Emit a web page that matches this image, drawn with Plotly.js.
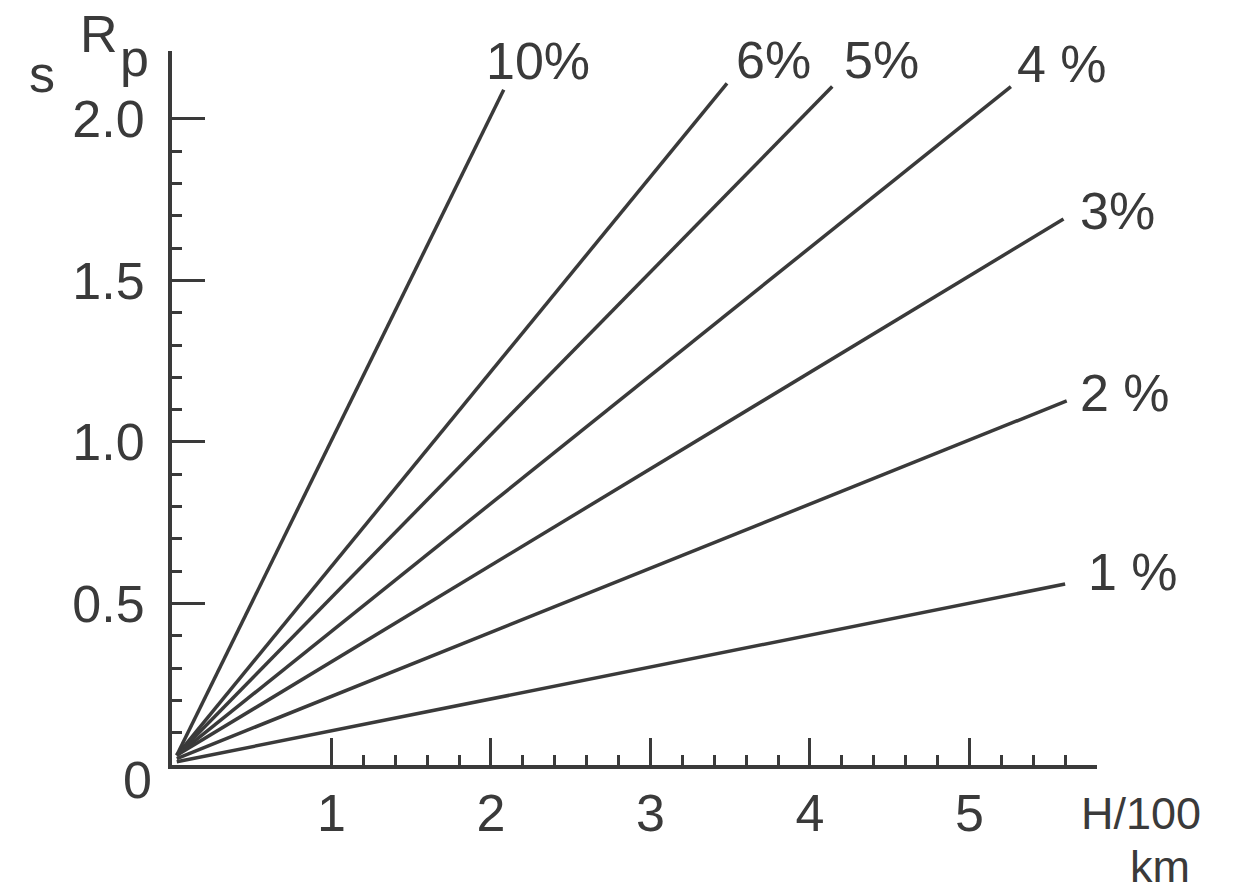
<!DOCTYPE html>
<html>
<head>
<meta charset="utf-8">
<script src="https://cdn.plot.ly/plotly-3.0.1.min.js"></script>
<style>
  html, body { margin: 0; padding: 0; background: #ffffff; }
  #chart { width: 1252px; height: 893px; }
</style>
</head>
<body>
<div id="chart"></div>
<script>
// ---- data ----
const seriesLabels = ["10%", "6%", "5%", "4 %", "3%", "2 %", "1 %"];
const startH = [0.03, 0.03, 0.03, 0.03, 0.03, 0.03, 0.03];
const startS = [0.03, 0.03, 0.03, 0.03, 0.03, 0.02, 0.01];
const endH   = [2.08, 3.48, 4.14, 5.26, 5.59, 5.61, 5.60];
const endS   = [2.09, 2.11, 2.10, 2.10, 1.69, 1.127, 0.56];

const xTickVals = [1, 2, 3, 4, 5];
const xTickText = ["1", "2", "3", "4", "5"];
const xMinorTicks = [1.2, 1.4, 1.6, 1.8, 2.2, 2.4, 2.6, 2.8, 3.2, 3.4, 3.6, 3.8,
                     4.2, 4.4, 4.6, 4.8, 5.2, 5.4, 5.6];
const yTickVals = [0.5, 1.0, 1.5, 2.0];
const yTickText = ["0.5", "1.0", "1.5", "2.0"];
const yMinorTicks = [0.1, 0.2, 0.3, 0.4, 0.6, 0.7, 0.8, 0.9, 1.1, 1.2, 1.3, 1.4,
                     1.6, 1.7, 1.8, 1.9];
const originLabel = "0";
const yAxisName = ["s", "R", "p"];
const xAxisName = ["H/100", "km"];

// ---- styling / layout (not data) ----
const ink = "#3a3a3a";
const fontFam = "Liberation Sans, Arial, sans-serif";
const fs = 52;
const labelOffsets = [[34, 29], [46, 23], [49, 27], [51, 23], [54, 8], [58, 8], [68, 12]];

const W = 1252, H = 893, mL = 172, mR = 155, mT = 51, mB = 128;
const pw = W - mL - mR, ph = H - mT - mB;
function px(x) { return (x - mL) / pw; }
function py(y) { return (H - mB - y) / ph; }

const traces = seriesLabels.map((name, i) => ({
  type: "scatter",
  mode: "lines",
  name: name,
  x: [startH[i], endH[i]],
  y: [startS[i], endS[i]],
  line: { color: ink, width: 3.5 },
  hoverinfo: "skip",
  showlegend: false,
  cliponaxis: false
}));

const font = { family: fontFam, size: fs, color: ink };
const fontSmall = { family: fontFam, size: 45, color: ink };

const annotations = seriesLabels.map((name, i) => ({
  x: endH[i], y: endS[i], xref: "x", yref: "y",
  text: name, showarrow: false,
  xanchor: "center", yanchor: "middle",
  xshift: labelOffsets[i][0], yshift: labelOffsets[i][1],
  font: font
}));

function pxAnn(text, x, y, f) {
  return { x: px(x), y: py(y), xref: "paper", yref: "paper",
    text: text, showarrow: false, xanchor: "center", yanchor: "middle",
    font: f || font, borderpad: 0 };
}

annotations.push(
  { x: 0, y: 0, xref: "x", yref: "y", text: originLabel, showarrow: false,
    xanchor: "center", yanchor: "middle", xshift: -35, yshift: -15, font: font },
  pxAnn(yAxisName[0], 42, 74),
  pxAnn(yAxisName[1], 99, 34),
  pxAnn(yAxisName[2], 134, 58),
  pxAnn(xAxisName[0], 1141, 813, fontSmall),
  pxAnn(xAxisName[1], 1160, 866, fontSmall)
);

const layout = {
  width: W, height: H,
  margin: { l: mL, r: mR, t: mT, b: mB, pad: 0 },
  paper_bgcolor: "#ffffff", plot_bgcolor: "#ffffff",
  showlegend: false,
  xaxis: {
    range: [0, 5.8], showgrid: false, zeroline: false,
    showline: true, linecolor: ink, linewidth: 4,
    tickmode: "array", tickvals: xTickVals, ticktext: xTickText,
    ticks: "inside", ticklen: 27, tickwidth: 3, tickcolor: ink,
    ticklabelstandoff: 0,
    tickfont: font,
    minor: { tickmode: "array", tickvals: xMinorTicks, ticks: "inside",
             ticklen: 10, tickwidth: 3, tickcolor: ink, showgrid: false },
    fixedrange: true
  },
  yaxis: {
    range: [0, 2.21], showgrid: false, zeroline: false,
    showline: true, linecolor: ink, linewidth: 4,
    tickmode: "array", tickvals: yTickVals, ticktext: yTickText,
    ticks: "inside", ticklen: 33, tickwidth: 3, tickcolor: ink,
    ticklabelstandoff: 13,
    tickfont: font,
    minor: { tickmode: "array", tickvals: yMinorTicks, ticks: "inside",
             ticklen: 10, tickwidth: 3, tickcolor: ink, showgrid: false },
    fixedrange: true
  },
  annotations: annotations
};

Plotly.newPlot("chart", traces, layout, { displayModeBar: false, staticPlot: true });
</script>
</body>
</html>
